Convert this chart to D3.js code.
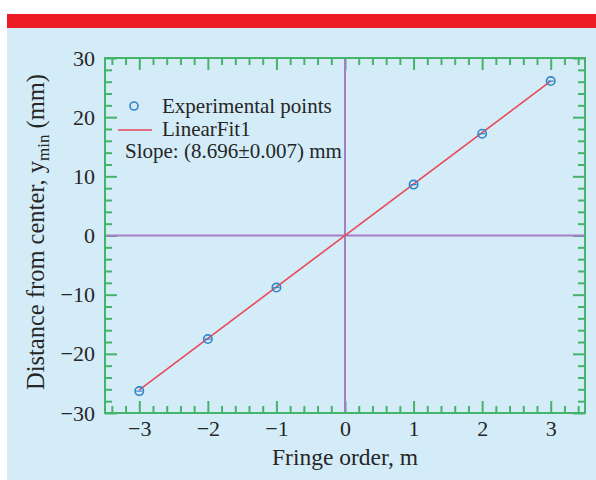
<!DOCTYPE html>
<html>
<head>
<meta charset="utf-8">
<script src="https://cdn.jsdelivr.net/npm/d3@7"></script>
<style>
  html, body { margin: 0; padding: 0; background: #ffffff; }
  svg { display: block; }
  text { font-family: "Liberation Serif", "Times New Roman", serif; fill: #262626; }
</style>
</head>
<body>
<svg id="chart" width="596" height="480"></svg>
<script>
// Fringe order and measured distance of each minimum from the center
const fringeOrder = [-3, -2, -1, 1, 2, 3];
const distanceMm = [-26.3, -17.5, -8.8, 8.6, 17.2, 26.1];
// Linear fit through the origin
const fitSlope = 8.696;
const fitSlopeErr = 0.007;
const xTicks = [-3, -2, -1, 0, 1, 2, 3];
const yTicks = [-30, -20, -10, 0, 10, 20, 30];

const svg = d3.select("#chart");
const W = 596, H = 480;

// Page frame: red band over a pale blue panel
svg.append("rect").attr("x", 7).attr("y", 28).attr("width", W - 7).attr("height", H - 28).attr("fill", "#d4ecf8");
svg.append("rect").attr("x", 7).attr("y", 14).attr("width", W - 7).attr("height", 14).attr("fill", "#ed1c24");

const plot = { left: 105, right: 585, top: 58, bottom: 413 };
const x = d3.scaleLinear().domain([-3.5, 3.5]).range([plot.left, plot.right]);
const y = d3.scaleLinear().domain([-30, 30]).range([plot.bottom, plot.top]);

const green = "#45b46a";
const purple = "#a77cc7";
const red = "#e8495a";
const blue = "#2f86c8";

const g = svg.append("g");

// Minor and major tick marks, drawn inward on all four sides
const xMinor = d3.range(-3.4, 3.5, 0.2).map(v => Math.round(v * 10) / 10).filter(v => Math.abs(v - Math.round(v)) > 1e-6);
const yMinor = d3.range(-28, 30, 2).filter(v => v % 10 !== 0);
const majorLen = 12, minorLen = 7;

function tickAxis(axisGen, transform) {
  const a = g.append("g").attr("transform", transform).call(axisGen);
  a.select(".domain").remove();
  a.selectAll("line").attr("stroke", green).attr("stroke-width", 2);
  a.selectAll("text").remove();
  return a;
}
// bottom
tickAxis(d3.axisTop(x).tickValues(xTicks).tickSize(majorLen), `translate(0,${plot.bottom})`);
tickAxis(d3.axisTop(x).tickValues(xMinor).tickSize(minorLen), `translate(0,${plot.bottom})`);
// top
tickAxis(d3.axisBottom(x).tickValues(xTicks).tickSize(majorLen), `translate(0,${plot.top})`);
tickAxis(d3.axisBottom(x).tickValues(xMinor).tickSize(minorLen), `translate(0,${plot.top})`);
// left
tickAxis(d3.axisRight(y).tickValues(yTicks).tickSize(majorLen), `translate(${plot.left},0)`);
tickAxis(d3.axisRight(y).tickValues(yMinor).tickSize(minorLen), `translate(${plot.left},0)`);
// right
tickAxis(d3.axisLeft(y).tickValues(yTicks).tickSize(majorLen), `translate(${plot.right},0)`);
tickAxis(d3.axisLeft(y).tickValues(yMinor).tickSize(minorLen), `translate(${plot.right},0)`);

// Tick labels
const fmt = d3.format("d");
const xl = g.append("g").attr("transform", `translate(0,${plot.bottom})`)
  .call(d3.axisBottom(x).tickValues(xTicks).tickSize(0).tickPadding(7).tickFormat(fmt));
xl.select(".domain").remove();
xl.selectAll("text").attr("font-size", 22).attr("fill", "#262626")
  .style("font-family", "'Liberation Serif', serif");

const yl = g.append("g").attr("transform", `translate(${plot.left},0)`)
  .call(d3.axisLeft(y).tickValues(yTicks).tickSize(0).tickPadding(10).tickFormat(fmt));
yl.select(".domain").remove();
yl.selectAll("text").attr("font-size", 22).attr("fill", "#262626")
  .style("font-family", "'Liberation Serif', serif");

// Zero crosshair
g.append("line").attr("x1", x(0)).attr("x2", x(0)).attr("y1", plot.top).attr("y2", plot.bottom)
  .attr("stroke", purple).attr("stroke-width", 2);
g.append("line").attr("x1", plot.left).attr("x2", plot.right).attr("y1", y(0)).attr("y2", y(0))
  .attr("stroke", purple).attr("stroke-width", 2);

// Plot frame
g.append("rect").attr("x", plot.left).attr("y", plot.top)
  .attr("width", plot.right - plot.left).attr("height", plot.bottom - plot.top)
  .attr("fill", "none").attr("stroke", green).attr("stroke-width", 2);

// Fit line
const fitX = d3.extent(fringeOrder);
g.append("line")
  .attr("x1", x(fitX[0])).attr("y1", y(fitSlope * fitX[0]))
  .attr("x2", x(fitX[1])).attr("y2", y(fitSlope * fitX[1]))
  .attr("stroke", red).attr("stroke-width", 1.6);

// Data points
const pts = g.append("g").selectAll("g").data(fringeOrder.map((m, i) => [m, distanceMm[i]]))
  .join("g").attr("transform", d => `translate(${x(d[0])},${y(d[1])})`);
pts.append("circle").attr("r", 4.2).attr("fill", "none").attr("stroke", blue).attr("stroke-width", 1.6);
pts.append("line").attr("x1", -3).attr("x2", 3).attr("stroke", blue).attr("stroke-width", 1.2);

// Legend
const lg = g.append("g");
lg.append("circle").attr("cx", 134).attr("cy", 106).attr("r", 4).attr("fill", "none").attr("stroke", blue).attr("stroke-width", 1.6);
lg.append("text").attr("x", 162).attr("y", 113).attr("font-size", 21).text("Experimental points");
lg.append("line").attr("x1", 118).attr("x2", 152).attr("y1", 130).attr("y2", 130).attr("stroke", red).attr("stroke-width", 1.6);
lg.append("text").attr("x", 162).attr("y", 136).attr("font-size", 21).text("LinearFit1");
lg.append("text").attr("x", 125).attr("y", 158).attr("font-size", 21)
  .text(`Slope: (${fitSlope.toFixed(3)}±${fitSlopeErr.toFixed(3)}) mm`);

// Axis titles
svg.append("text").attr("x", 345).attr("y", 465).attr("text-anchor", "middle").attr("font-size", 23.5)
  .text("Fringe order, m");

const yt = svg.append("text").attr("transform", `translate(44,232) rotate(-90)`)
  .attr("text-anchor", "middle").attr("font-size", 24.5);
yt.append("tspan").text("Distance from center, y");
yt.append("tspan").attr("font-size", 17).attr("dy", 5).text("min");
yt.append("tspan").attr("dy", -5).text(" (mm)");
</script>
</body>
</html>
